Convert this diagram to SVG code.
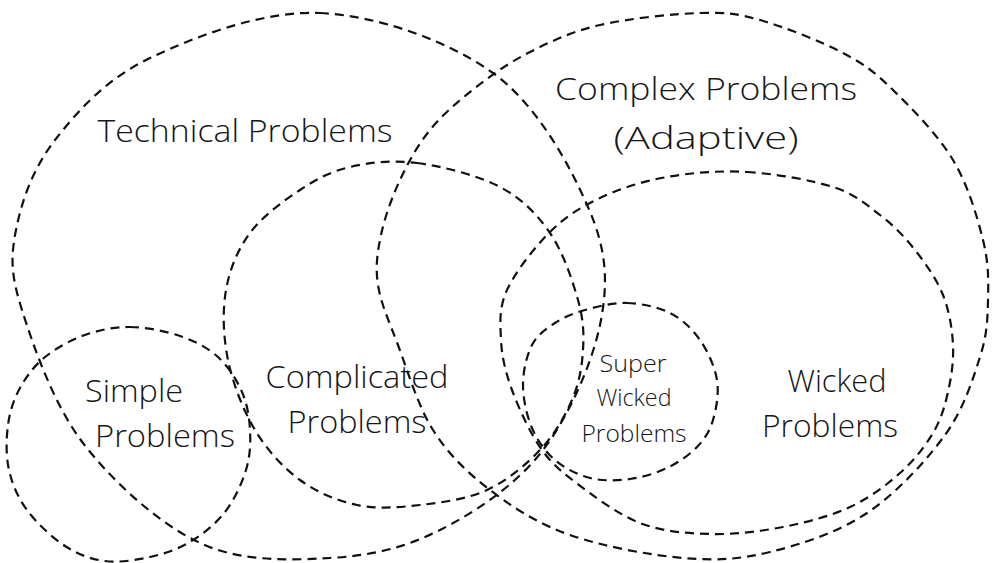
<svg xmlns="http://www.w3.org/2000/svg" width="1000" height="563" viewBox="0 0 1000 563">
<style>
  .set { fill: none; stroke: #111; stroke-width: 2.2; stroke-dasharray: 9 6; stroke-linecap: butt; }
  .lbl { font-family: "Open Sans", "Liberation Sans", sans-serif; font-weight: 300; fill: #161616; text-anchor: middle; }
  .big { font-size: 32px; }
  .small { font-size: 24px; }
</style>
<rect width="1000" height="563" fill="#ffffff"/>

<g id="technical">
  <path class="set" d="M320,13 C377.2,15.5 448.3,40.7 493,73 C537.7,105.3 570,165.8 588,207 C606,248.2 608.5,279.5 601,320 C593.5,360.5 569.8,415 543,450 C516.2,485 475.5,512 440,530 C404.5,548 370,555.8 330,558 C290,560.2 241.2,562.2 200,543 C158.8,523.8 112.7,481.8 83,443 C53.3,404.2 33.2,345.5 22,310 C10.8,274.5 10.5,258.3 16,230 C21.5,201.7 32.7,168.7 55,140 C77.3,111.3 105.8,79.2 150,58 C194.2,36.8 262.8,10.5 320,13 Z"/>
  <text class="lbl big" x="245" y="142" textLength="295" lengthAdjust="spacingAndGlyphs">Technical Problems</text>
</g>

<g id="complex">
  <path class="set" d="M700,13 C726.7,12.2 736.2,13.3 760,20 C783.8,26.7 820.8,41.3 843,53 C865.2,64.7 874.7,72.2 893,90 C911.3,107.8 938,135 953,160 C968,185 977.2,216.7 983,240 C988.8,263.3 988.5,280.5 988,300 C987.5,319.5 987.2,334.5 980,357 C972.8,379.5 963.8,409 945,435 C926.2,461 896.2,493.5 867,513 C837.8,532.5 800.7,544.5 770,552 C739.3,559.5 716.3,560.8 683,558 C649.7,555.2 602.2,546.3 570,535 C537.8,523.7 512.8,507.5 490,490 C467.2,472.5 448.3,454.2 433,430 C417.7,405.8 407.2,369.2 398,345 C388.8,320.8 380.8,303.3 378,285 C375.2,266.7 377.3,252.5 381,235 C384.7,217.5 391.8,197.5 400,180 C408.2,162.5 417.5,145.3 430,130 C442.5,114.7 458.3,101 475,88 C491.7,75 509.2,62.5 530,52 C550.8,41.5 571.7,31.5 600,25 C628.3,18.5 673.3,13.8 700,13 Z"/>
  <text class="lbl big" x="706" y="100" textLength="302" lengthAdjust="spacingAndGlyphs">Complex Problems</text>
  <text class="lbl big" x="706" y="149" textLength="185" lengthAdjust="spacingAndGlyphs">(Adaptive)</text>
</g>

<g id="complicated">
  <path class="set" d="M417,163 C442,166.3 477.8,175.3 500,187 C522.2,198.7 537,214.2 550,233 C563,251.8 572.5,280.5 578,300 C583.5,319.5 584,333.3 583,350 C582,366.7 579.2,383.3 572,400 C564.8,416.7 554.2,435 540,450 C525.8,465 507,480.8 487,490 C467,499.2 441.7,502.5 420,505 C398.3,507.5 377,509.2 357,505 C337,500.8 317,492.5 300,480 C283,467.5 267,450 255,430 C243,410 232.8,383.3 228,360 C223.2,336.7 222.3,311.2 226,290 C229.7,268.8 237.7,249.7 250,233 C262.3,216.3 283.3,201 300,190 C316.7,179 330.5,171.5 350,167 C369.5,162.5 392,159.7 417,163 Z"/>
  <text class="lbl big" x="357" y="388" textLength="183" lengthAdjust="spacingAndGlyphs">Complicated</text>
  <text class="lbl big" x="357" y="433" textLength="139" lengthAdjust="spacingAndGlyphs">Problems</text>
</g>

<g id="simple">
  <path class="set" d="M130,327 C145.8,327.2 165.3,331 180,336 C194.7,341 207.7,347.7 218,357 C228.3,366.3 236.7,379.8 242,392 C247.3,404.2 249.3,417 250,430 C250.7,443 250.2,456.3 246,470 C241.8,483.7 234.3,500 225,512 C215.7,524 202.5,534.5 190,542 C177.5,549.5 164.2,553.8 150,557 C135.8,560.2 119.2,562.8 105,561 C90.8,559.2 78,554.5 65,546 C52,537.5 36.3,522.7 27,510 C17.7,497.3 12.2,484.2 9,470 C5.8,455.8 6.2,438.7 8,425 C9.8,411.3 13.8,399.3 20,388 C26.2,376.7 34.2,365.8 45,357 C55.8,348.2 70.8,340 85,335 C99.2,330 114.2,326.8 130,327 Z"/>
  <text class="lbl big" x="134" y="402" textLength="98" lengthAdjust="spacingAndGlyphs">Simple</text>
  <text class="lbl big" x="165" y="447" textLength="140" lengthAdjust="spacingAndGlyphs">Problems</text>
</g>

<g id="wicked">
  <path class="set" d="M747,172 C774.7,173.7 810.8,179.8 833,187 C855.2,194.2 866.3,204.5 880,215 C893.7,225.5 904.5,236.7 915,250 C925.5,263.3 936.7,279.2 943,295 C949.3,310.8 952.2,328.8 953,345 C953.8,361.2 951.3,377.3 948,392 C944.7,406.7 941,419.5 933,433 C925,446.5 913.8,460.7 900,473 C886.2,485.3 869.5,498 850,507 C830.5,516 806.3,522.5 783,527 C759.7,531.5 733.8,534.7 710,534 C686.2,533.3 662.5,531.7 640,523 C617.5,514.3 591.7,494.7 575,482 C558.3,469.3 550.5,462.3 540,447 C529.5,431.7 518.5,407.8 512,390 C505.5,372.2 501.8,356.7 501,340 C500.2,323.3 498.8,308 507,290 C515.2,272 534.5,247.3 550,232 C565.5,216.7 580.5,207.2 600,198 C619.5,188.8 642.5,181.3 667,177 C691.5,172.7 719.3,170.3 747,172 Z"/>
  <text class="lbl big" x="837" y="392" textLength="99" lengthAdjust="spacingAndGlyphs">Wicked</text>
  <text class="lbl big" x="830" y="437" textLength="136" lengthAdjust="spacingAndGlyphs">Problems</text>
</g>

<g id="super-wicked">
  <path class="set" d="M627,303 C641.2,303.5 657.8,306.8 670,313 C682.2,319.2 692.2,328.8 700,340 C707.8,351.2 714.8,366.7 717,380 C719.2,393.3 716.3,408.8 713,420 C709.7,431.2 704.7,439 697,447 C689.3,455 678.2,462.7 667,468 C655.8,473.3 642.8,477.3 630,479 C617.2,480.7 602.5,481.2 590,478 C577.5,474.8 564.7,468.3 555,460 C545.3,451.7 537.3,440.5 532,428 C526.7,415.5 523,398.8 523,385 C523,371.2 526.7,355.3 532,345 C537.3,334.7 546.2,328.8 555,323 C563.8,317.2 573,313.3 585,310 C597,306.7 612.8,302.5 627,303 Z"/>
  <text class="lbl small" x="633" y="372" textLength="67" lengthAdjust="spacingAndGlyphs">Super</text>
  <text class="lbl small" x="634" y="406" textLength="75" lengthAdjust="spacingAndGlyphs">Wicked</text>
  <text class="lbl small" x="634" y="442" textLength="105" lengthAdjust="spacingAndGlyphs">Problems</text>
</g>
</svg>
